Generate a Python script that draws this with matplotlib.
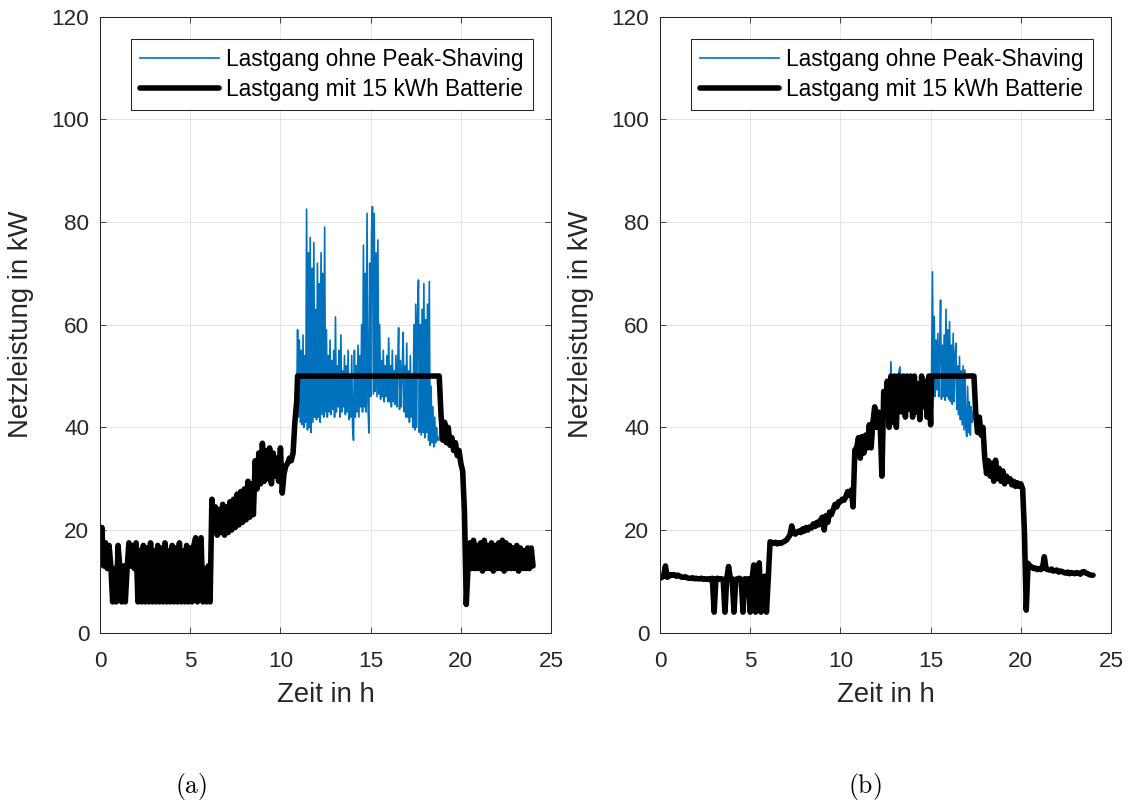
import numpy as np
import matplotlib.pyplot as plt

plt.rcParams['font.family'] = ['Liberation Sans', 'DejaVu Sans']
plt.rcParams['mathtext.fontset'] = 'cm'
plt.rcParams['path.simplify'] = False

# ---- (a) ----
# 0.0 h .. 10.8 h, 0.1 h steps, kW
morning_a = [
    14, 20.5, 13, 17.5, 12.5, 17, 13, 6, 12.5, 6,
    17, 12.5, 6, 13, 6, 12.5, 17.5, 13, 17, 12.5,
    17.5, 6, 16, 6, 17, 6, 16.5, 6, 17.5, 6,
    16, 6, 17, 6, 16.5, 6, 17.5, 6, 16, 6,
    17, 6, 16.5, 6, 17.5, 6, 16, 6, 17, 6,
    16.5, 6, 17, 18.5, 6, 17, 18.5, 6, 12.5, 6,
    13, 6, 26, 19.5, 24.5, 19, 24, 19.5, 25, 19,
    24.5, 19.5, 25.5, 20, 26, 20.5, 27, 21, 27.5, 21.5,
    28, 22, 29.5, 22.5, 29, 23, 33.5, 28, 35, 29,
    36.9, 29.5, 35.5, 30, 36, 29, 35, 30.5, 34, 29.5,
    36, 27.2, 31, 32.5, 33, 34, 33.5, 35, 41,
]
# 10.9 h .. 18.8 h, 0.05 h steps
peak_a = [
    45, 59,
    42, 57, 41, 55, 40.5, 58, 40, 54, 41, 82.5, 39.5, 74, 40, 77, 39, 71, 41, 76, 42, 63,
    41.5, 72, 42, 68, 41, 74, 42.5, 70, 42, 79, 43, 59, 42, 54, 43, 57, 42.5, 53, 43.5, 55,
    42, 61.5, 43, 52, 44, 55, 42, 58, 43, 51, 44, 54, 42.5, 52, 43, 55, 41.5, 50, 42, 54,
    40, 37.5, 55, 42, 52, 43, 56, 42, 54, 44, 60, 43, 75.5, 44, 70, 43, 81.7, 45, 38.9, 72,
    46, 78, 83, 46.5, 81.7, 47, 74, 46, 76.5, 46.5, 60, 45.5, 53, 46, 55, 45, 52, 46, 54, 45,
    57.4, 45, 52, 44, 55, 45, 51, 44.5, 54, 44, 52, 59.4, 43.5, 53, 44, 51, 58.5, 43, 52, 42,
    56.4, 42, 51, 41, 54, 42, 50, 40, 60, 39.5, 64, 40, 62, 68.7, 39, 60, 38.5, 63, 39, 68,
    38, 61, 39, 64, 37.5, 68.4, 36.5, 48, 37, 44, 36.2, 42, 37, 40, 37.5, 38, 37.5,
]
# 18.9 h .. 24.0 h, 0.1 h steps
evening_a = [
    42.5,
    37.5, 41, 37, 40, 36.5, 38, 35.5, 37, 34.5, 35.5,
    33, 31.5, 23.5, 5.5, 13, 17.5, 12.5, 18, 12.5, 17,
    12.5, 17.5, 12, 18, 12.5, 17, 12.5, 17.5, 12, 17,
    12.5, 17.5, 12.5, 18, 12, 17.5, 12.5, 17, 12.5, 16.5,
    12.5, 17, 12, 16.5, 12.5, 16, 12.5, 16.5, 12.5, 16.5,
    13,
]

# ---- (b) ----
# 0.0 h .. 14.9 h, 0.1 h steps
morning_b = [
    10.6, 10.8, 11, 13, 10.8, 11, 11.3, 11.2, 11.3, 11,
    11.2, 11, 10.8, 10.8, 10.9, 10.7, 10.6, 10.6, 10.7, 10.5,
    10.6, 10.5, 10.5, 10.6, 10.4, 10.5, 10.4, 10.5, 10.3, 10.6,
    4, 10.5, 10.6, 10.4, 10.5, 10.4, 4, 10.5, 12.9, 10.5,
    10.5, 4, 10.4, 10.5, 10.6, 10.4, 4, 10.5, 10.4, 10.5,
    4, 10.5, 13.2, 4, 10.6, 13.6, 4, 10.8, 11, 4,
    10.6, 17.7, 17.6, 17.4, 17.6, 17.3, 17.5, 17.4, 17.6, 17.8,
    18, 18.5, 19, 20.8, 19.5, 19.2, 19.6, 19.8, 19.5, 20.2,
    19.8, 20.5, 20, 20.6, 20.4, 21.2, 20.7, 21.5, 21, 22,
    22.5, 20, 22.8, 21.5, 23.5, 23, 24, 25, 24.5, 25.5,
    25.5, 26, 25.8, 26.5, 27.5, 26.8, 27.8, 24.5, 35.6, 36,
    38, 34, 38.2, 35, 38.5, 36, 40.5, 36, 41, 44,
    40, 43, 41, 30.5, 47, 42, 49, 40, 52.8, 41,
    50, 40, 50, 51.8, 43, 50, 42, 50, 43.5, 50,
    42, 50, 43, 48.5, 41.5, 50, 44, 49, 42, 50,
]
# 15.0 h .. 17.4 h, 0.05 h steps
peak_b = [
    40.5, 50, 70.3, 47, 61.6, 46, 57, 47.3, 58.3, 46, 55, 64.8, 45.5, 56, 46, 58, 45.3, 63, 46, 59,
    45.5, 60.6, 45, 56, 44.5, 58.3, 45, 54, 56.4, 43.5, 52, 42.5, 53.8, 41.5, 51, 40.5, 52, 39.5, 51.2, 40,
    38.2, 48, 39, 45, 38.5, 44, 41, 43, 41.5,
]
# 17.5 h .. 24.0 h, 0.1 h steps
evening_b = [
    42.7, 39, 42, 38.5, 40,
    34, 31, 33.5, 30.5, 33, 29.5, 33.6, 30, 32, 29.5,
    31.5, 29, 30.5, 29.5, 30, 28.8, 29.5, 28.5, 29.2, 28.5,
    29, 28, 19.5, 4.4, 13.5, 13, 12.8, 12.5, 12.6, 12.3,
    12.5, 12.3, 12.6, 14.8, 12.4, 12.3, 12.2, 12.4, 12, 12.1,
    12.2, 11.8, 12, 11.9, 11.7, 11.6, 11.8, 11.5, 11.7, 11.6,
    11.5, 11.7, 11.6, 11.4, 11.8, 11.9, 11.6, 11.5, 11.3, 11.2,
    11.2,
]

# grid limit held by the battery, kW, and the hours it is held flat
cap_kw = 50
flat_a = (10.95, 18.8)
flat_b = (15.1, 17.4)

labels = ['Lastgang ohne Peak-Shaving', 'Lastgang mit 15 kWh Batterie']
captions = ['(a)', '(b)']

t_a = np.concatenate([np.linspace(0, 10.8, 109), np.linspace(10.9, 18.8, 159),
                      np.linspace(18.9, 24, 52)])
load_a = np.array(morning_a + peak_a + evening_a, dtype=float)
t_b = np.concatenate([np.linspace(0, 14.9, 150), np.linspace(15.0, 17.4, 49),
                      np.linspace(17.5, 24, 66)])
load_b = np.array(morning_b + peak_b + evening_b, dtype=float)


def shaved(t, load, flat):
    held = (t >= flat[0] - 1e-6) & (t <= flat[1] + 1e-6)
    return np.where(held, cap_kw, np.minimum(load, cap_kw))


def draw(ax, t, load, flat):
    ax.plot(t, load, color='#0072BD', lw=1.2, label=labels[0])
    ax.plot(t, shaved(t, load, flat), color='black', lw=4, solid_joinstyle='round',
            solid_capstyle='round', label=labels[1])
    ax.set_xlim(0, 25)
    ax.set_ylim(0, 120)
    ax.set_xticks(range(0, 26, 5))
    ax.set_yticks(range(0, 121, 20))
    ax.grid(True, color='#dfdfdf', lw=0.6)
    ax.set_axisbelow(True)
    ax.tick_params(direction='in', length=4, width=0.6, top=True, right=True,
                   colors='#262626', labelsize=16.2)
    ax.tick_params(axis='x', pad=13)
    ax.tick_params(axis='y', pad=7.7)
    for s in ax.spines.values():
        s.set_color('#262626')
        s.set_linewidth(0.75)
    ax.set_xlabel('Zeit in h', fontsize=19.8, color='#262626')
    ax.set_ylabel('Netzleistung in kW', fontsize=19.8, color='#262626')
    ax.xaxis.set_label_coords(0.5, -0.080)
    ax.yaxis.set_label_coords(-0.147, 0.5)
    leg = ax.legend(loc='upper right', bbox_to_anchor=(0.9594, 0.9633),
                    fontsize=16.3, fancybox=False, edgecolor='#262626',
                    framealpha=1, handlelength=3.5, handletextpad=0.3,
                    labelspacing=0.3, borderpad=0.4, borderaxespad=0)
    leg.get_frame().set_linewidth(0.75)


fig = plt.figure(figsize=(11.29, 8.07), dpi=100)
ax_a = fig.add_axes([0.0886, 0.216, 0.3995, 0.7633])
ax_b = fig.add_axes([0.5846, 0.216, 0.3995, 0.7633])

draw(ax_a, t_a, load_a, flat_a)
draw(ax_b, t_b, load_b, flat_b)

fig.text(191 / 1129, 20 / 807, r'$\mathrm{%s}$' % captions[0], fontsize=18.5, ha='center', va='center')
fig.text(865 / 1129, 20 / 807, r'$\mathrm{%s}$' % captions[1], fontsize=18.5, ha='center', va='center')

fig.savefig('out.png', dpi=100)
